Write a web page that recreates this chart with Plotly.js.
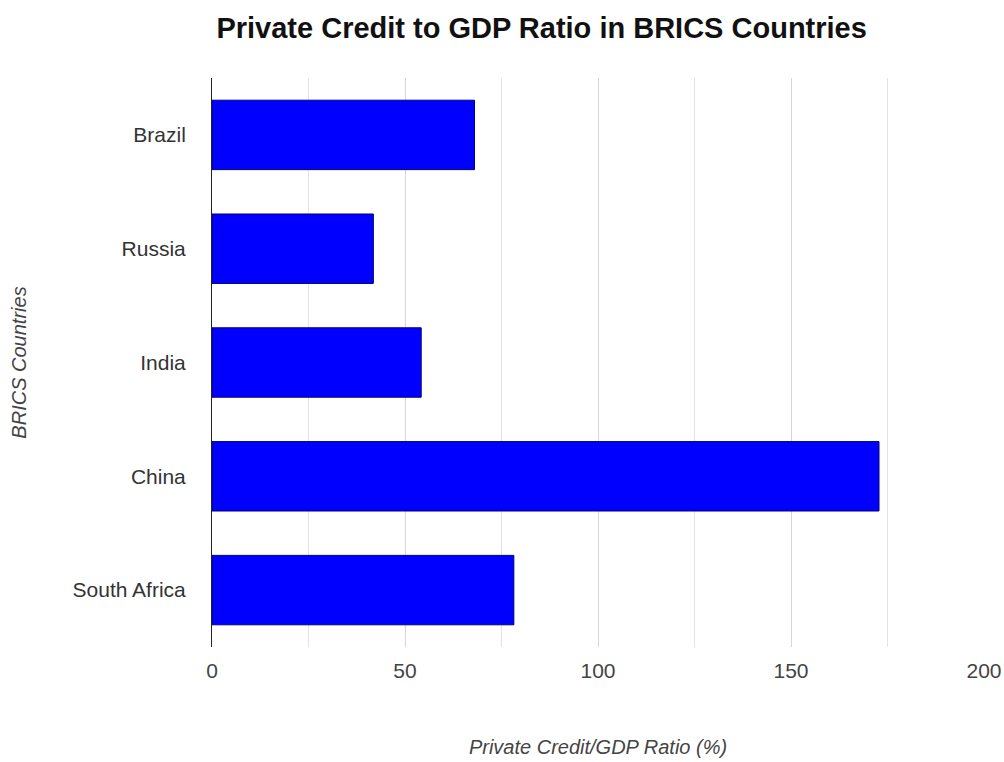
<!DOCTYPE html>
<html>
<head>
<meta charset="utf-8">
<script src="https://cdn.plot.ly/plotly-3.0.1.min.js"></script>
<style>html,body{margin:0;padding:0;background:#fff;}#chart{width:1004px;height:762px;}</style>
</head>
<body>
<div id="chart"></div>
<script>
const countries = ["Brazil", "Russia", "India", "China", "South Africa"];
const creditToGdp = [68.0, 41.8, 54.2, 172.8, 78.2];
const xTicks = [0, 50, 100, 150, 200];

const trace = {
  type: "bar",
  orientation: "h",
  y: countries,
  x: creditToGdp,
  marker: { color: "#0000ff", line: { color: "#00007a", width: 1 } },
  hoverinfo: "x+y"
};

const layout = {
  width: 1004,
  height: 762,
  paper_bgcolor: "#ffffff",
  plot_bgcolor: "#ffffff",
  margin: { l: 212, r: 20, t: 78, b: 115 },
  bargap: 0.39,
  showlegend: false,
  title: {
    text: "<b>Private Credit to GDP Ratio in BRICS Countries</b>",
    font: { family: "Liberation Sans, Arial, sans-serif", size: 29, color: "#111111" },
    x: 0.427, xref: "paper", xanchor: "center",
    y: 0.963, yref: "container", yanchor: "middle"
  },
  xaxis: {
    range: [0, 200],
    tickvals: xTicks,
    ticktext: xTicks.map(String),
    showgrid: true,
    gridcolor: "#d6d6d6",
    gridwidth: 1,
    minor: { dtick: 25, tick0: 0, showgrid: true, gridcolor: "#e3e3e3", gridwidth: 1 },
    zeroline: false,
    showline: false,
    ticks: "",
    ticklabelstandoff: 9,
    tickfont: { family: "Liberation Sans, Arial, sans-serif", size: 21, color: "#444444" },
    title: {
      text: "<i>Private Credit/GDP Ratio (%)</i>",
      font: { family: "Liberation Sans, Arial, sans-serif", size: 20, color: "#444444" },
      standoff: 58
    },
    fixedrange: true
  },
  yaxis: {
    categoryorder: "array",
    categoryarray: countries,
    autorange: "reversed",
    showgrid: false,
    showline: true,
    linecolor: "#222222",
    linewidth: 1,
    ticks: "",
    ticklabelstandoff: 21,
    tickfont: { family: "Liberation Sans, Arial, sans-serif", size: 21, color: "#333333" },
    title: {
      text: "<i>BRICS Countries</i>",
      font: { family: "Liberation Sans, Arial, sans-serif", size: 20, color: "#444444" },
      standoff: 40
    },
    fixedrange: true
  }
};

Plotly.newPlot("chart", [trace], layout, { displayModeBar: false, staticPlot: true });
</script>
</body>
</html>
